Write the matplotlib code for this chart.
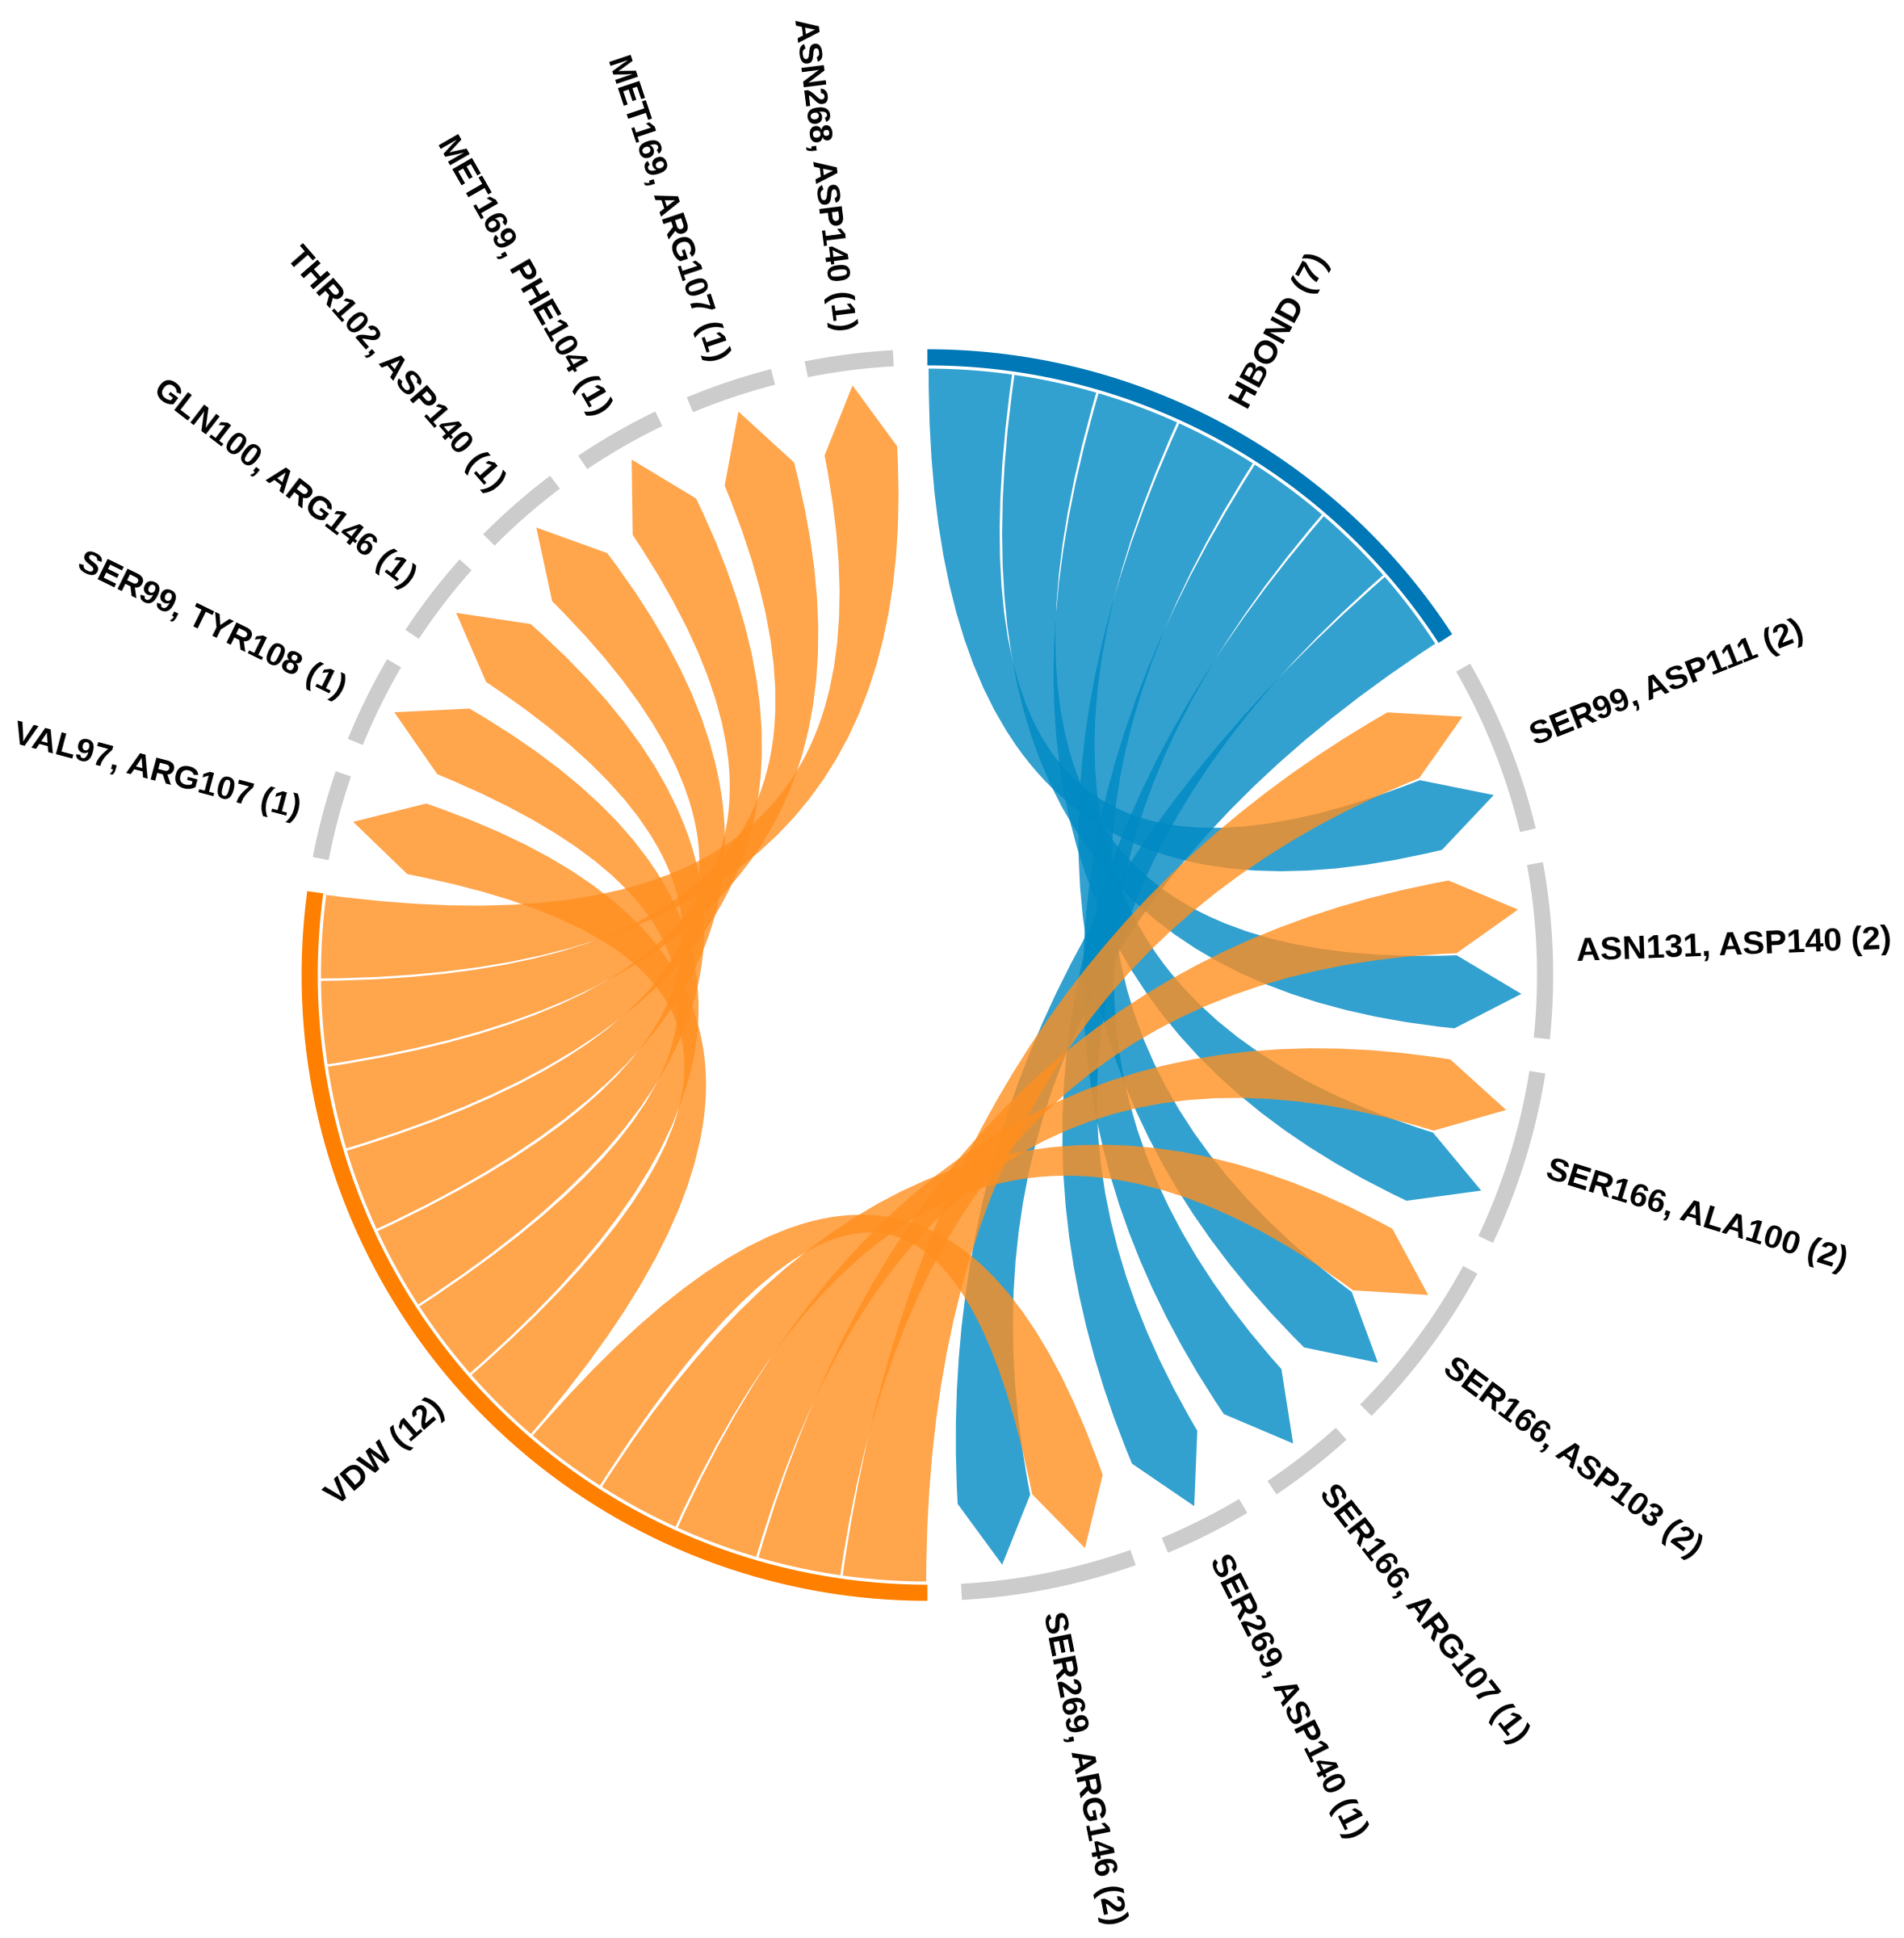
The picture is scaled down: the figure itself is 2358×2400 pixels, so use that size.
import numpy as np
import matplotlib.pyplot as plt
from matplotlib.path import Path
from matplotlib.patches import PathPatch, Polygon

plt.rcParams['font.family'] = ['Liberation Sans', 'DejaVu Sans']

# groups clockwise from 12 o'clock: HBOND, right targets, VDW, left targets
right_targets = ['SER99, ASP111', 'ASN131, ASP140', 'SER166, ALA100', 'SER166, ASP103',
                 'SER166, ARG107', 'SER269, ASP140', 'SER269, ARG146']
left_targets = ['VAL97, ARG107', 'SER99, TYR108', 'GLN100, ARG146', 'THR102, ASP140',
                'MET169, PHE104', 'MET169, ARG107', 'ASN268, ASP140']
# contacts from each source to each target
hbond_right = [1, 1, 1, 1, 1, 1, 1]
hbond_left = [0, 0, 0, 0, 0, 0, 0]
vdw_right = [1, 1, 1, 1, 0, 0, 1]
vdw_left = [1, 1, 1, 1, 1, 1, 1]

names = ['HBOND'] + right_targets + ['VDW'] + left_targets
n = len(names)
mat = np.zeros((n, n))
mat[0, 1:8] = hbond_right
mat[0, 9:16] = hbond_left
mat[8, 1:8] = vdw_right
mat[8, 9:16] = vdw_left

arc_col = {0: '#0077b6', 8: '#ff7f00'}
rib_col = {0: '#008ac4', 8: '#ff8f1f'}
gray = '#cccccc'

cx, cy = 1148.5, 1207.5
r_in, r_out = 755, 775
sr, tr, hr = 751, 736, 80
pad = 0.0552
rib_pad = 0.004

# directed chord layout (like d3.chordDirected)
sums = mat.sum(axis=1) + mat.sum(axis=0)
k = (2 * np.pi - pad * n) / sums.sum()
groups = []
src_ang = {}
tgt_ang = {}
x = 0.0
for i in range(n):
    x0 = x
    for j in range(-n, n):
        if j < 0:
            s = ~j
            v = mat[s, i]
            if v:
                tgt_ang[(s, i)] = (x, x + v * k)
                x += v * k
        else:
            v = mat[i, j]
            if v:
                src_ang[(i, j)] = (x, x + v * k)
                x += v * k
    groups.append((x0, x))
    x += pad


def pt(r, a):
    return (cx + r * np.sin(a), cy - r * np.cos(a))


def arc(r, a0, a1, num=80):
    a = np.linspace(a0, a1, num)
    return np.column_stack([cx + r * np.sin(a), cy - r * np.cos(a)])


def shrink(a0, a1, ap):
    if a1 - a0 > 2 * ap:
        return a0 + ap, a1 - ap
    m = (a0 + a1) / 2
    return m, m


fig = plt.figure(figsize=(23.58, 24), dpi=100)
ax = fig.add_axes([0, 0, 1, 1])
ax.set_xlim(0, 2358)
ax.set_ylim(2400, 0)
ax.axis('off')

# group arcs
for i, (a0, a1) in enumerate(groups):
    poly = np.vstack([arc(r_out, a0, a1), arc(r_in, a1, a0)])
    ax.add_patch(Polygon(poly, closed=True, facecolor=arc_col.get(i, gray),
                         edgecolor='none'))

# ribbons with arrow heads
for (i, j) in sorted(src_ang, key=lambda t: t[0] * n + t[1]):
    sa0, sa1 = shrink(*src_ang[(i, j)], rib_pad / 2)
    ta0, ta1 = shrink(*tgt_ang[(i, j)], rib_pad / 2)
    tr2 = tr - hr
    ta2 = (ta0 + ta1) / 2
    a = arc(sr, sa0, sa1, 40)
    verts = [tuple(a[0])] + [tuple(p) for p in a[1:]]
    codes = [Path.MOVETO] + [Path.LINETO] * (len(a) - 1)
    verts += [(cx, cy), pt(tr2, ta0)]
    codes += [Path.CURVE3, Path.CURVE3]
    verts += [pt(tr, ta2), pt(tr2, ta1)]
    codes += [Path.LINETO, Path.LINETO]
    verts += [(cx, cy), pt(sr, sa0)]
    codes += [Path.CURVE3, Path.CURVE3]
    verts += [pt(sr, sa0)]
    codes += [Path.CLOSEPOLY]
    ax.add_patch(PathPatch(Path(verts, codes), facecolor=rib_col[i], alpha=0.8,
                           edgecolor='none'))

# labels
em = 41
r_lab = 804
for i, (a0, a1) in enumerate(groups):
    a = (a0 + a1) / 2
    deg = np.degrees(a)
    if a < np.pi:
        rot = 90 - deg
        ha = 'left'
    else:
        rot = 270 - deg
        ha = 'right'
    rr = np.radians(rot)
    px, py = pt(r_lab, a)
    px += 0.35 * em * np.sin(rr)
    py += 0.35 * em * np.cos(rr)
    ax.text(px, py, f'{names[i]} ({int(sums[i])})', fontsize=em * 0.72,
            fontweight='bold', color='black', rotation=rot, rotation_mode='anchor',
            ha=ha, va='baseline')

fig.savefig('out.png', dpi=100)
